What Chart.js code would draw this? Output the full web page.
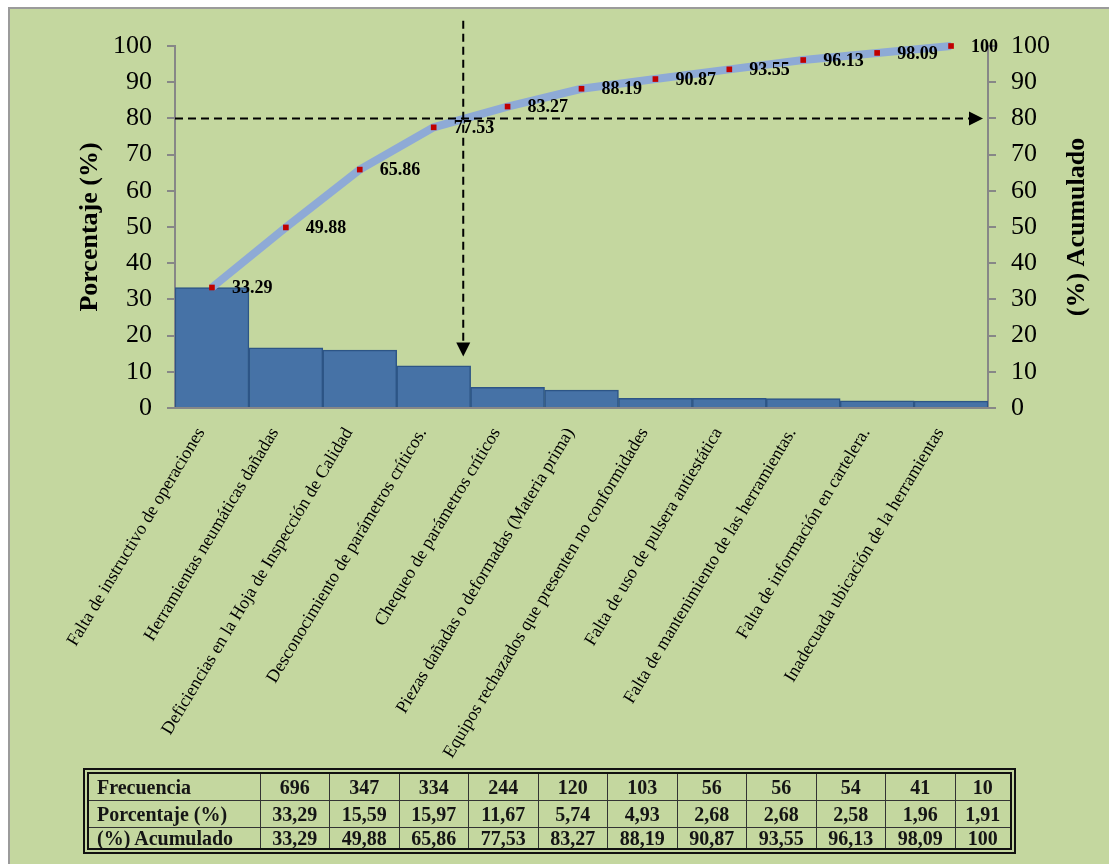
<!DOCTYPE html>
<html lang="es">
<head>
<meta charset="utf-8">
<title>Diagrama de Pareto</title>
<script src="https://cdn.jsdelivr.net/npm/chart.js@4.4.1/dist/chart.umd.min.js"></script>
<style>
    body { margin: 0; background: #fff; }
    #panel {
        position: absolute; left: 8px; top: 7px; width: 1101px; height: 857px;
        background: #c4d79f; border-left: 2px solid #9b9b9b; border-top: 2px solid #9b9b9b;
        box-sizing: border-box;
    }
    #grafico { position: absolute; left: 0; top: 0; }
    #tabla-box {
        position: absolute; left: 83px; top: 768px; width: 933px;
        border: 6px double #111; box-sizing: border-box;
    }
    #tabla {
        width: 100%; border-collapse: collapse; border-style: hidden; table-layout: fixed;
        font: bold 20px 'Liberation Serif', serif; color: #151515;
    }
    #tabla td { border: 1px solid #333; padding: 0; text-align: center; vertical-align: middle; line-height: 1; }
    #tabla td:first-child { text-align: left; padding-left: 8px; }
</style>
</head>
<body>
<div id="panel"></div>
<canvas id="grafico" width="1109" height="864"></canvas>
<div id="tabla-box">
    <table id="tabla">
        <colgroup id="columnas"></colgroup>
        <tbody id="filas"></tbody>
    </table>
</div>
<script>
const categorias = [
    'Falta de instructivo de operaciones',
    'Herramientas neumáticas dañadas',
    'Deficiencias en la Hoja de Inspección de Calidad',
    'Desconocimiento de parámetros críticos.',
    'Chequeo de parámetros críticos',
    'Piezas dañadas o deformadas (Materia prima)',
    'Equipos rechazados que presenten no conformidades',
    'Falta de uso de pulsera antiestática',
    'Falta de mantenimiento de las herramientas.',
    'Falta de información en cartelera.',
    'Inadecuada ubicación de la herramientas'
];
const frecuencia = [696, 347, 334, 244, 120, 103, 56, 56, 54, 41, 10];
// altura de las barras (lo que se ve en el grafico)
const porcentaje = [33.29, 16.59, 15.97, 11.67, 5.74, 4.93, 2.68, 2.68, 2.58, 1.96, 1.91];
// la tabla original trae "15,59" en la segunda columna
const porcentajeTabla = ['33,29', '15,59', '15,97', '11,67', '5,74', '4,93', '2,68', '2,68', '2,58', '1,96', '1,91'];
const acumulado = [33.29, 49.88, 65.86, 77.53, 83.27, 88.19, 90.87, 93.55, 96.13, 98.09, 100];

// lineas de referencia (en unidades de los ejes)
const umbral = 80;
const corteCategoria = 3.4;
const flechaVertical = [107, 14.2];

const fuente = "'Liberation Serif', 'Times New Roman', serif";
const gris = '#878787';

// tabla de abajo
const columnas = document.getElementById('columnas');
[171].concat(frecuencia.slice(0, 10).map(() => 69.5), [55]).forEach(w => {
    const col = document.createElement('col');
    col.style.width = w + 'px';
    columnas.appendChild(col);
});
const filas = [
    ['Frecuencia', frecuencia.map(String), 26],
    ['Porcentaje (%)', porcentajeTabla, 27],
    ['(%) Acumulado', acumulado.map(v => String(v).replace('.', ',')), 19]
];
const tbody = document.getElementById('filas');
filas.forEach(([titulo, valores, alto]) => {
    const tr = document.createElement('tr');
    tr.style.height = alto + 'px';
    [titulo].concat(valores).forEach(t => {
        const td = document.createElement('td');
        td.textContent = t;
        tr.appendChild(td);
    });
    tbody.appendChild(tr);
});

function flechaDiscontinua(ctx, x1, y1, x2, y2) {
    const ang = Math.atan2(y2 - y1, x2 - x1);
    const largo = 14, ancho = 7;
    const bx = x2 - Math.cos(ang) * largo;
    const by = y2 - Math.sin(ang) * largo;
    ctx.setLineDash([8, 5]);
    ctx.lineWidth = 2;
    ctx.beginPath();
    ctx.moveTo(x1, y1);
    ctx.lineTo(bx, by);
    ctx.stroke();
    ctx.setLineDash([]);
    ctx.beginPath();
    ctx.moveTo(x2, y2);
    ctx.lineTo(bx + Math.sin(ang) * ancho, by - Math.cos(ang) * ancho);
    ctx.lineTo(bx - Math.sin(ang) * ancho, by + Math.cos(ang) * ancho);
    ctx.closePath();
    ctx.fill();
}

const extras = {
    id: 'extras',
    afterDatasetsDraw(chart) {
        const ctx = chart.ctx;
        const area = chart.chartArea;
        const x = chart.scales.x;
        const y = chart.scales.y;
        ctx.save();

        // etiquetas del acumulado
        ctx.font = 'bold 18px ' + fuente;
        ctx.fillStyle = '#000';
        ctx.textAlign = 'left';
        ctx.textBaseline = 'middle';
        chart.getDatasetMeta(0).data.forEach((pt, i) => {
            ctx.fillText(String(acumulado[i]), pt.x + 20, pt.y + 1);
        });

        // flechas del 80 %
        ctx.strokeStyle = '#000';
        const y80 = y.getPixelForValue(umbral);
        flechaDiscontinua(ctx, area.left, y80, area.right - 5, y80);
        const xc = x.getPixelForValue(corteCategoria);
        flechaDiscontinua(ctx, xc, y.getPixelForValue(flechaVertical[0]), xc, y.getPixelForValue(flechaVertical[1]));

        // titulos de los ejes
        const medio = (area.top + area.bottom) / 2;
        ctx.font = 'bold 26px ' + fuente;
        ctx.textAlign = 'center';
        [['Porcentaje (%)', 90], ['(%) Acumulado', 1077]].forEach(([texto, tx]) => {
            ctx.save();
            ctx.translate(tx, medio);
            ctx.rotate(-Math.PI / 2);
            ctx.fillText(texto, 0, 0);
            ctx.restore();
        });
        ctx.restore();
    }
};

const ejeY = (pos, ancho) => ({
    position: pos,
    min: 0,
    max: 100,
    ticks: { stepSize: 10, color: '#000', padding: 15, font: { family: fuente, size: 26 } },
    grid: { drawOnChartArea: false, tickLength: 8, color: gris, lineWidth: 2 },
    border: { color: gris, width: 2 },
    afterFit(scale) { scale.width = ancho; }
});

new Chart(document.getElementById('grafico'), {
    data: {
        labels: categorias,
        datasets: [{
            type: 'line',
            data: acumulado,
            yAxisID: 'y2',
            borderColor: '#8eaad6',
            borderWidth: 8,
            tension: 0,
            clip: false,
            pointStyle: 'rect',
            pointRadius: 4,
            pointBorderWidth: 0,
            pointBackgroundColor: '#c00000',
            order: 1
        }, {
            type: 'bar',
            data: porcentaje,
            yAxisID: 'y',
            backgroundColor: '#4672a6',
            borderColor: '#2d5586',
            borderWidth: 1.5,
            barPercentage: 1,
            categoryPercentage: 1,
            order: 2
        }]
    },
    options: {
        responsive: false,
        animation: false,
        layout: { padding: { top: 46, bottom: 0, left: 0, right: 0 } },
        plugins: { legend: { display: false }, tooltip: { enabled: false } },
        scales: {
            x: {
                grid: { display: false },
                border: { color: gris, width: 2 },
                ticks: {
                    autoSkip: false, minRotation: 59, maxRotation: 59, padding: 8, labelOffset: -11,
                    color: '#000', font: { family: fuente, size: 18 }
                },
                afterFit(scale) { scale.height = 456; }
            },
            y: ejeY('left', 175),
            y2: ejeY('right', 121)
        }
    },
    plugins: [extras]
});
</script>
</body>
</html>
